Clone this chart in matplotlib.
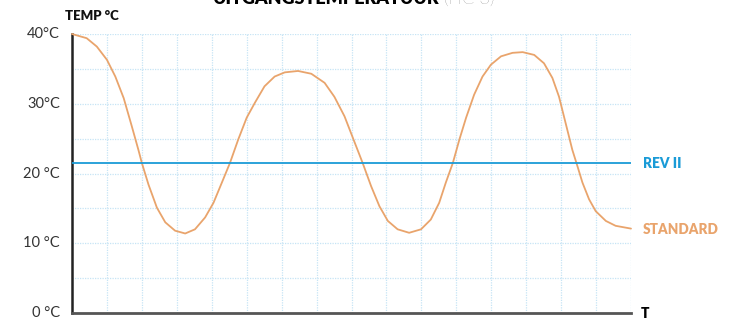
import matplotlib.pyplot as plt

# values
t = [0, 0.42, 0.71, 1.0, 1.24, 1.48, 1.71, 1.90, 2.0, 2.19, 2.43, 2.67, 2.95,
     3.24, 3.52, 3.81, 4.05, 4.29, 4.52, 4.76, 5.0, 5.23, 5.51, 5.80, 6.09,
     6.47, 6.85, 7.23, 7.51, 7.80, 8.04, 8.32, 8.56, 8.80, 9.04, 9.32, 9.65,
     9.99, 10.27, 10.51, 10.70, 10.90, 11.09, 11.28, 11.51, 11.75, 11.99,
     12.28, 12.61, 12.90, 13.23, 13.51, 13.75, 13.94, 14.13, 14.32, 14.47,
     14.61, 14.80, 14.99, 15.28, 15.56, 16.0]
standard = [40, 39.4, 38.2, 36.3, 33.9, 30.8, 26.8, 23.4, 21.5, 18.4, 15.1,
            13.0, 11.8, 11.4, 12.0, 13.7, 15.8, 18.7, 21.5, 24.9, 28.0, 30.1,
            32.5, 33.9, 34.5, 34.7, 34.3, 33.0, 31.0, 28.2, 25.1, 21.5, 18.2,
            15.3, 13.2, 12.0, 11.5, 12.0, 13.4, 15.8, 18.7, 21.5, 24.9, 28.0,
            31.3, 33.9, 35.6, 36.8, 37.3, 37.4, 37.0, 35.8, 33.7, 31.0, 27.2,
            23.4, 21.0, 18.7, 16.3, 14.6, 13.2, 12.5, 12.1]
rev_ii = 21.5
yticks = [0, 10, 20, 30, 40]
ylabels = ["0 °C", "10 °C", "20 °C", "30°C", "40°C"]

orange = "#E9A46C"
blue = "#1A9BD7"
W, H = 731, 318

fig = plt.figure(figsize=(W / 100, H / 100), dpi=100)
ax = fig.add_axes([72 / W, 5 / H, (631 - 72) / W, (313 - 34) / H])

ax.plot(t, standard, color=orange, lw=1.3, zorder=3, clip_on=False,
        solid_joinstyle="round", solid_capstyle="round")
ax.axhline(rev_ii, color=blue, lw=1.3, zorder=3)

ax.set_xlim(0, 16)
ax.set_ylim(0, 40)
ax.set_xticks(range(0, 17))
ax.set_yticks(range(0, 41, 5))
ax.grid(True, color="#c6e4f5", lw=0.9, ls=(0, (1, 1)))
ax.tick_params(length=0, labelbottom=False, labelleft=False)

for v, lab in zip(yticks, ylabels):
    ax.text(-0.34, v, lab, ha="right", va="center", fontsize=10.5,
            color="#333333", family="Lato")

for s in ["top", "right"]:
    ax.spines[s].set_visible(False)
ax.spines["left"].set_color("#222222")
ax.spines["left"].set_linewidth(1.8)
ax.spines["bottom"].set_color("#555555")
ax.spines["bottom"].set_linewidth(2)

fig.text(65 / W, 1 - 16 / H, "TEMP °C", fontsize=9.5, fontweight="heavy",
         family="Lato", va="center", ha="left", color="#111111")
fig.text(440 / W, 1 - 4 / H, "UITGANGSTEMPERATUUR", fontsize=13,
         fontweight="heavy", family="Lato", ha="right", va="baseline")
fig.text(444 / W, 1 - 4 / H, "(HC 3)", fontsize=13, fontweight="light",
         family="Lato", ha="left", va="baseline", color="#555555")
fig.text(643 / W, 1 - 163 / H, "REV II", fontsize=9.8, fontweight="heavy",
         family="Lato", color=blue, va="center")
fig.text(643 / W, 1 - 229 / H, "STANDARD", fontsize=9.8, fontweight="heavy",
         family="Lato", color=orange, va="center")
fig.text(641 / W, 1 - 313 / H, "T", fontsize=10, fontweight="heavy",
         family="Lato", va="center")

fig.savefig("out.png", dpi=100)
